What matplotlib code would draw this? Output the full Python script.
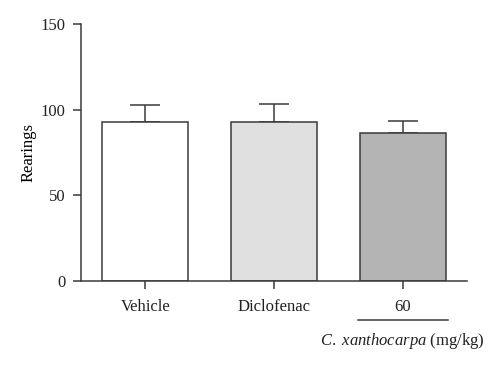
import matplotlib
matplotlib.use("Agg")
from matplotlib import pyplot as plt

# bar data
groups = ["Vehicle", "Diclofenac", "60"]
means = [92.8, 92.6, 86.4]
errors = [9.9, 10.9, 7.0]
colours = ["#ffffff", "#e0e0e0", "#b4b4b4"]

edge = "#3a3a3a"
txt = "#222222"
fs = 12
plt.rcParams["font.family"] = ["Liberation Serif", "DejaVu Serif"]
plt.rcParams["mathtext.fontset"] = "custom"
plt.rcParams["mathtext.rm"] = "Liberation Serif"
plt.rcParams["mathtext.it"] = "Liberation Serif:italic"

fig = plt.figure(figsize=(5, 3.68), dpi=100)
ax = fig.add_axes([0.162, 0.2364, 0.772, 0.6984])

x = range(len(groups))
ax.bar(x, means, width=0.67, color=colours, edgecolor=edge, linewidth=1.1, zorder=2)
ax.errorbar(x, means, yerr=[[0] * len(errors), errors], fmt="none",
            ecolor=edge, elinewidth=1.1, capsize=11, capthick=1.1, zorder=1)

ax.set_xlim(-0.5, 2.5)
ax.set_ylim(0, 150)
ax.set_yticks([0, 50, 100, 150])
ax.set_xticks(list(x))
ax.set_xticklabels(groups)
ax.set_ylabel("Rearings", fontsize=fs, labelpad=3)

for side in ["top", "right"]:
    ax.spines[side].set_visible(False)
for side in ["left", "bottom"]:
    ax.spines[side].set_color(edge)
    ax.spines[side].set_linewidth(1.1)
ax.tick_params(axis="both", colors=edge, width=1.1, length=6, labelsize=fs,
               labelcolor=txt)
ax.tick_params(axis="x", pad=7)
ax.tick_params(axis="y", pad=5)

# dose group bracket and label
ax.plot([1.65, 2.35], [-22.8, -22.8], color=edge, lw=1.1, clip_on=False)
ax.text(2.0, -35, r"$\it{C.\ xanthocarpa}$ (mg/kg)", ha="center", va="center",
        fontsize=fs, color=txt)

fig.savefig("out.png", dpi=100)
